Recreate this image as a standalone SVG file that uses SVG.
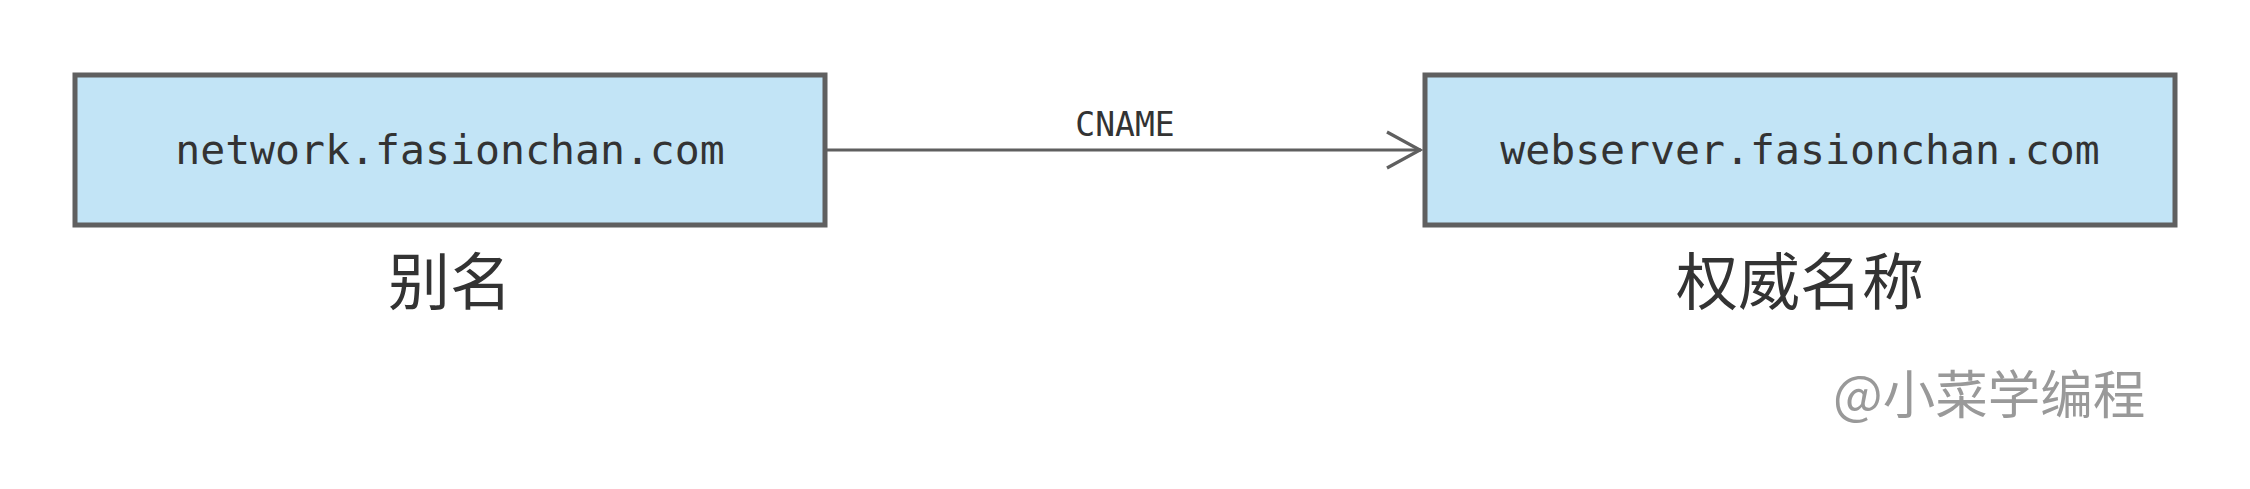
<svg xmlns="http://www.w3.org/2000/svg" width="2250" height="489" viewBox="0 0 2250 489">
<style>
.box{fill:#c2e4f6;stroke:#5f5f5f;stroke-width:5}
.mono{font-family:"DejaVu Sans Mono","Liberation Mono",monospace;fill:#333;text-anchor:middle}
.cjk{font-family:"Noto Sans CJK SC","Noto Sans",sans-serif;fill:#333;text-anchor:middle}
.edge{stroke:#5f5f5f;stroke-width:3.2;fill:none}
</style>
<rect width="2250" height="489" fill="#ffffff"/>
<g id="alias">
<rect class="box" x="75" y="75" width="750" height="150"/>
<text class="mono" x="450" y="164" font-size="41.5">network.fasionchan.com</text>
<text class="cjk" x="450" y="305" font-size="62">别名</text>
</g>
<g id="canonical">
<rect class="box" x="1425" y="75" width="750" height="150"/>
<text class="mono" x="1800" y="164" font-size="41.5">webserver.fasionchan.com</text>
<text class="cjk" x="1800" y="305" font-size="62">权威名称</text>
</g>
<g id="connectors">
<line class="edge" x1="827" y1="150" x2="1421" y2="150"/>
<polyline class="edge" points="1387,132 1420,150 1387,168"/>
<text class="mono" x="1125" y="136" font-size="33">CNAME</text>
</g>
<g id="watermark">
<text x="1833" y="414" font-size="52.5" font-family="Noto Sans CJK SC, Noto Sans, sans-serif" fill="#999999">@小菜学编程</text>
</g>
</svg>
